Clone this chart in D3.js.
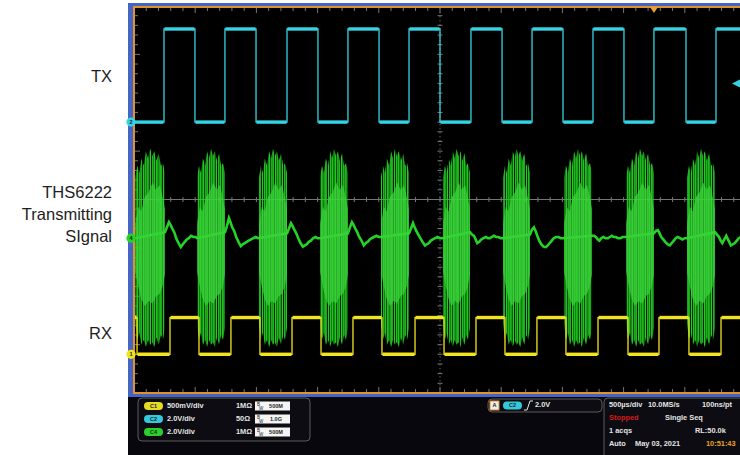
<!DOCTYPE html>
<html lang="en">
<head>
<meta charset="UTF-8">
<title>THS6222 scope capture</title>
<style>
  body { margin:0; background:#fff; }
  svg { display:block; font-family:"Liberation Sans", Arial, sans-serif; }
  .label { font-size:16.5px; fill:#1e1e1e; text-anchor:end; }
  .info { font-size:7.4px; fill:#e4e4e4; font-weight:bold; dominant-baseline:middle; }
  .pill { font-size:5.5px; fill:#222; font-weight:bold; text-anchor:middle; dominant-baseline:middle; }
</style>
</head>
<body>
<svg></svg>
<script src="https://d3js.org/d3.v7.min.js"></script>
<script>
let width = 740, height = 455;

// scope settings (ground position in divisions, volts per division)
let c1 = {pos: -3.2, vdiv: 0.5, color: "#f2e41c"};   // RX
let c2 = {pos: 1.6, vdiv: 2.0, color: "#34d4e4"};    // TX
let c4 = {pos: -0.8, vdiv: 2.0, color: "#24d424"};   // THS6222 out

// TX (C2): edge times in us, starts low
let txEdges = [245, 498, 743, 997, 1250, 1503, 1748, 2002, 2247, 2500, 2753, 3007, 3252, 3505, 3750, 4003, 4248, 4510, 4755];
let txLevels = [0, 3.85];
// RX (C1): edge times in us, starts high
let rxEdges = [25, 294, 531, 792, 1029, 1291, 1528, 1789, 2026, 2296, 2533, 2794, 3031, 3292, 3529, 3791, 4036, 4289, 4534, 4796];
let rxLevels = [0.38, 0];

// C4 bursts (us)
let burstStart = [10, 515, 1021, 1520, 2018, 2525, 3015, 3513, 4020, 4518];
let burstEnd   = [253, 743, 1250, 1748, 2247, 2745, 3235, 3742, 4248, 4747];
// burst envelope (volts, at fractions of the burst)
let envFrac   = [0, 0.07, 0.14, 0.21, 0.29, 0.36, 0.43, 0.5, 0.57, 0.64, 0.71, 0.79, 0.86, 0.93, 1];
let envTop    = [2.5, 3.0, 2.7, 3.3, 3.0, 3.6, 3.3, 3.7, 3.4, 3.6, 3.2, 3.5, 3.0, 3.1, 2.7];
let envBottom = [-3.5, -4.2, -3.9, -4.4, -4.2, -4.5, -4.2, -4.4, -4.3, -4.5, -4.1, -4.4, -4.0, -4.2, -3.7];
let coreFrac   = [0, 0.1, 0.2, 0.32, 0.45, 0.58, 0.7, 0.82, 0.92, 1];
let coreTop    = [0.6, 1.3, 1.1, 1.7, 1.9, 2.3, 2.0, 2.2, 1.7, 1.2];
let coreBottom = [-1.4, -2.0, -2.5, -2.8, -2.6, -2.7, -2.4, -2.3, -2.0, -1.5];

// C4 between bursts: one row per gap, volts at gapFrac of ~270 us
let gapLen = 270;
let gapFrac = [0, 0.06, 0.12, 0.17, 0.22, 0.28, 0.34, 0.41, 0.48, 0.54, 0.6, 0.66, 0.72, 0.79, 0.86, 0.93, 1];
let gapV = [
  [0.25, 0.45, 0.66, 0.55, 0.40, 0.25, 0.00, -0.20, -0.37, -0.25, -0.15, -0.05, 0.00, 0.10, 0.05, 0.05, 0.00],
  [0.25, 0.50, 0.83, 0.65, 0.45, 0.30, 0.05, -0.15, -0.33, -0.25, -0.20, -0.15, -0.10, -0.05, 0.00, 0.05, 0.00],
  [0.20, 0.40, 0.62, 0.50, 0.35, 0.20, 0.00, -0.20, -0.35, -0.30, -0.25, -0.15, -0.10, 0.00, 0.05, 0.00, 0.00],
  [0.20, 0.45, 0.66, 0.55, 0.40, 0.25, 0.05, -0.10, -0.30, -0.20, -0.15, -0.05, 0.00, 0.05, 0.10, 0.05, 0.05],
  [0.20, 0.40, 0.62, 0.45, 0.30, 0.15, 0.00, -0.15, -0.30, -0.25, -0.20, -0.10, -0.05, 0.00, 0.05, 0.00, 0.00],
  [0.25, 0.15, 0.10, -0.05, -0.20, -0.15, -0.05, 0.00, 0.05, 0.00, 0.00, 0.05, 0.10, 0.05, 0.05, 0.00, 0.00],
  [0.15, 0.35, 0.45, 0.30, 0.10, -0.10, -0.25, -0.35, -0.37, -0.30, -0.20, -0.10, 0.00, 0.05, 0.05, 0.00, 0.00],
  [0.10, 0.10, 0.05, -0.05, -0.10, 0.00, 0.05, 0.00, 0.00, 0.05, 0.10, 0.05, 0.05, 0.00, 0.00, 0.05, 0.05],
  [0.20, 0.30, 0.33, 0.20, 0.05, -0.05, -0.15, -0.25, -0.30, -0.20, -0.10, 0.00, 0.05, 0.00, -0.05, 0.00, 0.00],
  [0.25, 0.15, 0.05, -0.10, -0.20, -0.05, 0.10, -0.10, -0.30, -0.25, -0.20, -0.10, 0.00, 0.05, 0.05, 0.00, 0.00]
];

let svg = d3.select("svg").attr("width", width).attr("height", height);

let x = d3.scaleLinear().domain([0, 5000]).range([134, 746]);
let yDiv = d3.scaleLinear().domain([-4, 4]).range([393, 6]);
let yCh = (ch, v) => yDiv(ch.pos + v / ch.vdiv);

// screen frame
svg.append("rect").attr("x", 128).attr("y", 3).attr("width", 612).attr("height", 452).attr("fill", "#4565c4");
svg.append("rect").attr("x", 133).attr("y", 6).attr("width", 607).attr("height", 388).attr("fill", "#e2922c");
svg.append("rect").attr("x", 135).attr("y", 8).attr("width", 605).attr("height", 384).attr("fill", "#000");
svg.append("rect").attr("x", 128).attr("y", 397).attr("width", 612).attr("height", 58).attr("fill", "#07070d");

let defs = svg.append("defs");
defs.append("clipPath").attr("id", "plot").append("rect")
  .attr("x", 135).attr("y", 8).attr("width", 605).attr("height", 384);
let p1 = defs.append("pattern").attr("id", "carrier").attr("patternUnits", "userSpaceOnUse")
  .attr("width", 2.2).attr("height", 10);
p1.append("rect").attr("width", 1.3).attr("height", 10).attr("fill", "#1fc81f");
let p2 = defs.append("pattern").attr("id", "carrier2").attr("patternUnits", "userSpaceOnUse")
  .attr("width", 3.3).attr("height", 10);
p2.append("rect").attr("x", 1.5).attr("width", 1.0).attr("height", 10).attr("fill", "#28d828");

let g = svg.append("g").attr("clip-path", "url(#plot)");

// graticule: centre cross + edge ticks
let grid = g.append("g").attr("stroke", "#767676");
grid.append("line").attr("x1", 135).attr("x2", 740).attr("y1", yDiv(0)).attr("y2", yDiv(0)).attr("stroke-width", 1.2);
grid.append("line").attr("x1", x(2500)).attr("x2", x(2500)).attr("y1", 8).attr("y2", 392)
  .attr("stroke-dasharray", "1.5,2.5").attr("stroke-width", 1).attr("stroke", "#5e5e5e");
let xMinor = d3.range(0, 5001, 100), yMinor = d3.range(-4, 4.01, 0.2);
grid.selectAll(".tx").data(xMinor).enter().append("line")
  .attr("x1", d => x(d)).attr("x2", d => x(d))
  .attr("y1", yDiv(0) - 2.5).attr("y2", yDiv(0) + 2.5);
grid.selectAll(".tt").data(xMinor).enter().append("line")
  .attr("x1", d => x(d)).attr("x2", d => x(d)).attr("y1", 8).attr("y2", d => d % 500 === 0 ? 13 : 11);
grid.selectAll(".tb").data(xMinor).enter().append("line")
  .attr("x1", d => x(d)).attr("x2", d => x(d)).attr("y1", 392).attr("y2", d => d % 500 === 0 ? 387 : 389);
grid.selectAll(".ty").data(yMinor).enter().append("line")
  .attr("x1", x(2500) - 2.5).attr("x2", x(2500) + 2.5).attr("y1", d => yDiv(d)).attr("y2", d => yDiv(d));
grid.selectAll(".tl").data(yMinor).enter().append("line")
  .attr("x1", 135).attr("x2", (d, i) => i % 5 === 0 ? 140 : 138).attr("y1", d => yDiv(d)).attr("y2", d => yDiv(d));

// helpers for step traces
function steps(edges, levels) {
  let pts = [], lv = 0, t0 = 0, plateaus = [];
  edges.forEach(e => {
    plateaus.push([t0, e, levels[lv]]);
    pts.push([e, levels[lv]]);
    lv = 1 - lv;
    pts.push([e, levels[lv]]);
    t0 = e;
  });
  plateaus.push([t0, 5000, levels[lv]]);
  return {pts: [[0, levels[0]]].concat(pts, [[5000, levels[lv]]]), plateaus: plateaus};
}
function drawStep(ch, edges, levels) {
  let s = steps(edges, levels);
  let line = d3.line().x(d => x(d[0])).y(d => yCh(ch, d[1]));
  g.append("path").attr("d", line(s.pts)).attr("fill", "none")
    .attr("stroke", ch.color).attr("stroke-width", 1.3);
  g.append("g").selectAll("line").data(s.plateaus).enter().append("line")
    .attr("x1", d => x(d[0]) + 0.5).attr("x2", d => x(d[1]) - 0.5)
    .attr("y1", d => yCh(ch, d[2])).attr("y2", d => yCh(ch, d[2]))
    .attr("stroke", ch.color).attr("stroke-width", 3.4);
}

// C4 slow line
let c4pts = [];
burstEnd.forEach((e, i) => {
  gapFrac.forEach((f, j) => {
    let t = e + f * gapLen;
    if (i + 1 < burstStart.length && t > burstStart[i + 1]) t = burstStart[i + 1];
    c4pts.push([t, gapV[i][j]]);
  });
});
c4pts.unshift([burstStart[0], 0]);
g.append("path").attr("d", d3.line().x(d => x(d[0])).y(d => yCh(c4, d[1])).curve(d3.curveLinear)(c4pts))
  .attr("fill", "none").attr("stroke", c4.color).attr("stroke-width", 2.6);

// C4 bursts
let env = burstStart.map((s, i) => ({s: s, e: burstEnd[i]}));
let outer = b => d3.area().x(d => x(b.s + d.f * (b.e - b.s))).y0(d => yCh(c4, d.lo)).y1(d => yCh(c4, d.hi))
  (envFrac.map((f, k) => ({f: f, hi: envTop[k], lo: envBottom[k]})));
let core = b => d3.area().x(d => x(b.s + d.f * (b.e - b.s))).y0(d => yCh(c4, d.lo)).y1(d => yCh(c4, d.hi))
  (coreFrac.map((f, k) => ({f: f, hi: coreTop[k], lo: coreBottom[k]})));
let bursts = g.append("g");
bursts.selectAll(".o1").data(env).enter().append("path").attr("d", outer).attr("fill", "url(#carrier)");
bursts.selectAll(".o2").data(env).enter().append("path").attr("d", outer).attr("fill", "url(#carrier2)").attr("opacity", 0.8);
bursts.selectAll(".c").data(env).enter().append("path").attr("d", core).attr("fill", "#3cd63c").attr("opacity", 0.7);

drawStep(c2, txEdges, txLevels);
drawStep(c1, rxEdges, rxLevels);

// ground markers
let markers = [[c2, "2", "#34d4e4"], [c4, "4", "#24d424"], [c1, "1", "#f2e41c"]];
markers.forEach(m => {
  let yy = yCh(m[0], 0);
  svg.append("circle").attr("cx", 131).attr("cy", yy).attr("r", 4.6).attr("fill", m[2]);
  svg.append("text").attr("x", 131).attr("y", yy + 0.3).attr("class", "pill").attr("font-size", 7).text(m[1]);
});
// trigger position and level markers
svg.append("path").attr("d", `M${x(4248) - 4},7 L${x(4248) + 4},7 L${x(4248)},13 Z`).attr("fill", "#f0a030");
svg.append("path").attr("d", `M732,${yCh(c2, 1.6)} L740,${yCh(c2, 1.6) - 4} L740,${yCh(c2, 1.6) + 4} Z`).attr("fill", c2.color);

// left labels
let labels = [["TX", 82], ["THS6222", 198], ["Transmitting", 220], ["SIgnal", 242], ["RX", 339]];
svg.selectAll(".label").data(labels).enter().append("text").attr("class", "label")
  .attr("x", 112).attr("y", d => d[1]).text(d => d[0]);

// bottom info panel
let boxes = [[138, 398, 172, 43], [488, 399, 114, 13], [604, 398, 150, 62]];
svg.selectAll(".box").data(boxes).enter().append("rect")
  .attr("x", d => d[0]).attr("y", d => d[1]).attr("width", d => d[2]).attr("height", d => d[3])
  .attr("rx", 4).attr("fill", "#0c0c12").attr("stroke", "#5c5c5c").attr("stroke-width", 1);

let chanRows = [["C1", "#e6dc22", "500mV/div", "1MΩ", "500M"], ["C2", "#34c8dc", "2.0V/div", "50Ω", "1.0G"], ["C4", "#2cd02c", "2.0V/div", "1MΩ", "500M"]];
chanRows.forEach((r, i) => {
  let yy = 406 + i * 13;
  svg.append("rect").attr("x", 144).attr("y", yy - 4).attr("width", 19).attr("height", 8).attr("rx", 4).attr("fill", r[1]);
  svg.append("text").attr("class", "pill").attr("x", 153.5).attr("y", yy + 0.3).text(r[0]);
  svg.append("text").attr("class", "info").attr("x", 167).attr("y", yy).text(r[2]);
  svg.append("text").attr("class", "info").attr("x", 236).attr("y", yy).text(r[3]);
  svg.append("rect").attr("x", 255).attr("y", yy - 4.5).attr("width", 35).attr("height", 9).attr("fill", "#f4f4f4");
  svg.append("text").attr("x", 257).attr("y", yy - 0.5).attr("font-size", 4.5).attr("fill", "#222").text("B");
  svg.append("text").attr("x", 259).attr("y", yy + 3.5).attr("font-size", 4.5).attr("fill", "#222").text("W");
  svg.append("text").attr("class", "pill").attr("x", 276).attr("y", yy + 0.3).attr("font-size", 7).text(r[4]);
});

// trigger box
svg.append("rect").attr("x", 490).attr("y", 401).attr("width", 9).attr("height", 9).attr("fill", "#eee").attr("stroke", "#e2922c");
svg.append("text").attr("class", "pill").attr("x", 494.5).attr("y", 405.8).attr("font-size", 6).text("A");
svg.append("rect").attr("x", 503).attr("y", 401.5).attr("width", 19).attr("height", 8).attr("rx", 4).attr("fill", "#34c8dc");
svg.append("text").attr("class", "pill").attr("x", 512.5).attr("y", 405.8).text("C2");
svg.append("path").attr("d", "M524,410 L527,410 L530,401 L533,401").attr("fill", "none").attr("stroke", "#e4e4e4").attr("stroke-width", 1);
svg.append("text").attr("class", "info").attr("x", 535).attr("y", 405.5).text("2.0V");

// acquisition box
let acq = [
  ["500µs/div", 609, 405, "#e4e4e4"], ["10.0MS/s", 648, 405, "#e4e4e4"], ["100ns/pt", 702, 405, "#e4e4e4"],
  ["Stopped", 609, 418.5, "#d41a1a"], ["Single Seq", 665, 418.5, "#e4e4e4"],
  ["1 acqs", 609, 431.5, "#e4e4e4"], ["RL:50.0k", 695, 431.5, "#e4e4e4"],
  ["Auto", 609, 444, "#e4e4e4"], ["May 03, 2021", 635, 444, "#e4e4e4"], ["10:51:43", 706, 444, "#eba222"]
];
svg.selectAll(".acq").data(acq).enter().append("text").attr("class", "info")
  .attr("x", d => d[1]).attr("y", d => d[2]).style("fill", d => d[3]).text(d => d[0]);
</script>
</body>
</html>
